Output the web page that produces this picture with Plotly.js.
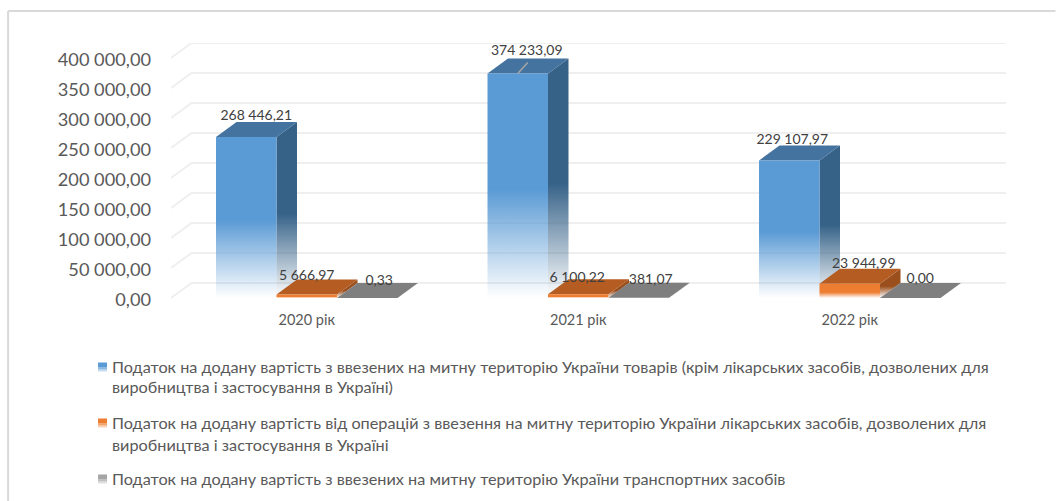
<!DOCTYPE html>
<html>
<head>
<meta charset="utf-8">
<script src="https://cdn.plot.ly/plotly-3.0.1.min.js"></script>
<style>
  html, body { margin: 0; padding: 0; background: #fff; }
  #chart { width: 1056px; height: 501px; }
</style>
</head>
<body>
<div id="chart"></div>
<script>
// Chart values
const years = ['2020 рік', '2021 рік', '2022 рік'];
const goodsVat = [268446.21, 374233.09, 229107.97];
const medicineVat = [5666.97, 6100.22, 23944.99];
const vehicleVat = [0.33, 381.07, 0];
const tickValues = [0, 50000, 100000, 150000, 200000, 250000, 300000, 350000, 400000];
const legendLines = [
    ['Податок на додану вартість з ввезених на митну територію України товарів (крім лікарських засобів, дозволених для',
     'виробництва і застосування в Україні)'],
    ['Податок на додану вартість від операцій з ввезення на митну територію України лікарських засобів, дозволених для',
     'виробництва і застосування в Україні'],
    ['Податок на додану вартість з ввезених на митну територію України транспортних засобів']
];

const W = 1056, H = 501;
const plotL = 171, plotR = 1006.5, plotT = 43, plotB = 308;
const font = 'Lato, "Noto Sans", sans-serif';

// fake 3D geometry, in axis units
const barW = 0.2228;          // one bar, as part of a category
const depthX = 20.5 / 271.5;  // depth of the bars along x
const depthY = 25000;         // depth of the bars along y
const pxY = 400000 / 240;     // value units per pixel
const labelDrop = 2 * pxY;    // y tick labels sit a little under their line

const series = [
    { values: goodsVat, front: '91,155,213', top: '#44739f', side: '54,98,136', fade: 0.48 },
    { values: medicineVat, front: '237,125,49', top: '#b45c22', side: '154,79,28', fade: 0.4 },
    { values: vehicleVat, front: '165,165,165', top: '#7f7f7f', side: '110,110,110', fade: 0.4 }
];

// label nudges [px right of bar centre, px above back top edge]
const labelNudge = [
    [[10, 5], [9, 7], [3, 5]],
    [[0, 3], [-1, 1], [14, 4]],
    [[12, 2], [12, 2], [10, 4]]
];

function fadeScale(rgb, fade) {
    return [[0, 'rgba(' + rgb + ',0)'], [fade, 'rgba(' + rgb + ',1)'], [1, 'rgba(' + rgb + ',1)']];
}

function face(xs, ys, color, v) {
    const t = { x: xs, y: ys, type: 'scatter', mode: 'none', fill: 'toself', hoverinfo: 'skip', showlegend: false };
    if (typeof color === 'string') t.fillcolor = color;
    else t.fillgradient = { type: 'vertical', colorscale: color, start: 0, stop: v };
    return t;
}

function tickText(v) {
    return String(v).replace(/\B(?=(\d{3})+$)/g, ' ') + ',00';
}

const traces = [];

// back wall lines and the short diagonals on the left
const gridX = [], gridY = [];
tickValues.forEach(v => {
    gridX.push(-0.5, -0.5 + depthX, 2.5 + depthX, null);
    gridY.push(v, v + depthY, v + depthY, null);
});
traces.push({ x: gridX, y: gridY, type: 'scatter', mode: 'lines', hoverinfo: 'skip', showlegend: false,
    line: { color: '#efefef', width: 2 } });

// bars, back faces first so the next bar overlaps the previous one
years.forEach((year, i) => {
    series.forEach((s, k) => {
        const v = s.values[i];
        const x0 = i - 1.5 * barW + k * barW, x1 = x0 + barW;
        traces.push(face([x1, x1 + depthX, x1 + depthX, x1, x1], [0, depthY, v + depthY, v, 0], fadeScale(s.side, s.fade), v + depthY));
        traces.push(face([x0, x1, x1 + depthX, x0 + depthX, x0], [v, v, v + depthY, v + depthY, v], s.top));
        if (v > 1000) traces.push(face([x0, x1, x1, x0, x0], [0, 0, v, v, 0], fadeScale(s.front, s.fade), v));
    });
});

// data labels
series.forEach((s, k) => {
    const xs = years.map((_, i) => i - barW + k * barW + labelNudge[k][i][0] / 271.5);
    const ys = s.values.map((v, i) => v + depthY + labelNudge[k][i][1] * pxY);
    traces.push({ x: xs, y: ys, text: s.values, texttemplate: '%{text:,.2f}', type: 'scatter', mode: 'text',
        textposition: 'middle center', hoverinfo: 'skip', showlegend: false,
        textfont: { family: font, size: 14, color: '#404040' }, cliponaxis: false });
});

// leader line of the tallest label
traces.push({ x: [1 - barW, 1 - barW + 10 / 271.5], y: [goodsVat[1], goodsVat[1] + 11 * pxY], type: 'scatter', mode: 'lines',
    hoverinfo: 'skip', showlegend: false, line: { color: '#a6a6a6', width: 1.5 } });

const paperX = px => (px - plotL) / (plotR - plotL);
const paperY = px => (plotB - px) / (plotB - plotT);

// legend drawn by hand, the built-in one can't sit this tight to its swatches
const legendY = [[366.5, 386.5], [422.5, 444.5], [478.5]];
const annotations = [];
const shapes = [
    { type: 'line', xref: 'paper', yref: 'paper', x0: paperX(8), x1: paperX(W), y0: paperY(11), y1: paperY(11), line: { color: '#d9d9d9', width: 2 } },
    { type: 'line', xref: 'paper', yref: 'paper', x0: paperX(8), x1: paperX(8), y0: paperY(11), y1: paperY(H), line: { color: '#d9d9d9', width: 2 } }
];
legendLines.forEach((lines, k) => {
    lines.forEach((text, n) => {
        annotations.push({ text: text, xref: 'paper', yref: 'paper', x: paperX(110), y: paperY(legendY[k][n]),
            xanchor: 'left', yanchor: 'middle', showarrow: false, font: { family: font, size: 16.25, color: '#595959' } });
    });
    const yc = legendY[k][0];
    [[-4, 1, 1], [1, 3, 0.7], [3, 5, 0.35]].forEach(strip => {
        shapes.push({ type: 'rect', xref: 'paper', yref: 'paper', x0: paperX(98), x1: paperX(107),
            y0: paperY(yc + strip[1]), y1: paperY(yc + strip[0]), line: { width: 0 },
            fillcolor: 'rgb(' + series[k].front + ')', opacity: strip[2] });
    });
});

const layout = {
    width: W,
    height: H,
    margin: { l: plotL, r: W - plotR, t: plotT, b: H - plotB },
    paper_bgcolor: '#fff',
    plot_bgcolor: 'rgba(0,0,0,0)',
    separators: ', ',
    showlegend: false,
    xaxis: {
        type: 'linear',
        range: [-0.5, 2.5 + depthX],
        tickmode: 'array',
        tickvals: [0, 1, 2],
        ticktext: years,
        showgrid: false,
        zeroline: false,
        showline: false,
        ticks: '',
        ticklabelstandoff: 1,
        tickfont: { family: font, size: 14.5, color: '#595959' }
    },
    yaxis: {
        range: [-10 * pxY, 400000 + depthY],
        tickmode: 'array',
        tickvals: tickValues.map(v => v - labelDrop),
        ticktext: tickValues.map(tickText),
        showgrid: false,
        zeroline: false,
        showline: false,
        ticks: '',
        ticklabelstandoff: 19,
        tickfont: { family: font, size: 18.2, color: '#595959' }
    },
    shapes: shapes,
    annotations: annotations
};

Plotly.newPlot('chart', traces, layout, { displayModeBar: false, staticPlot: true });
</script>
</body>
</html>
